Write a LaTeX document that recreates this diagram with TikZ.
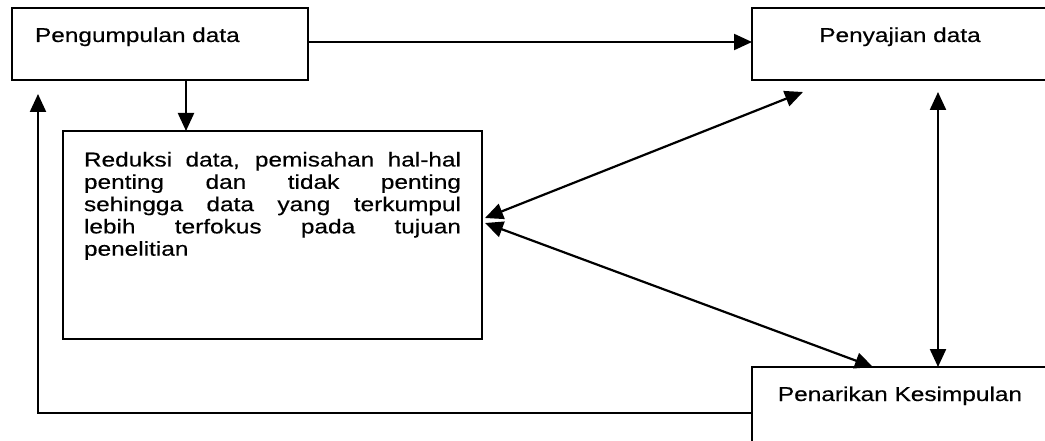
\documentclass[tikz,border=0pt]{standalone}
\usepackage{fontspec}
\setmainfont{Liberation Sans}[FakeStretch=1.22,FakeBold=0.4]
\usetikzlibrary{arrows.meta}
\tikzset{
  kotak/.style={draw, line width=2.2pt, outer sep=0pt, anchor=north west, inner ysep=19pt, text height=15pt, font=\fontsize{20}{22.3}\selectfont},
  panah/.style={line width=2.2pt, -{Triangle[length=18pt,width=16pt]}},
  panahdua/.style={line width=2.2pt, {Triangle[length=18pt,width=16pt]}-{Triangle[length=18pt,width=16pt]}}
}
\begin{document}
\begin{tikzpicture}[x=1pt,y=-1pt]
\useasboundingbox (0,0) rectangle (1045,441);
\node[kotak, text depth=19pt, text width=250pt, inner xsep=23pt, align=left] (kumpul) at (12,8) {Pengumpulan data};
\node[kotak, text depth=19pt, minimum width=296pt] (sajian) at (752,8) {Penyajian data};
\node[kotak, text depth=39pt, minimum width=296pt] (simpulan) at (752,367) {Penarikan Kesimpulan};
\node[draw, line width=2.2pt, outer sep=0pt, anchor=north west, inner xsep=21pt, inner ysep=21pt, font=\fontsize{20}{22.3}\selectfont] (reduksi) at (63,131) {\parbox[t][166pt][t]{377pt}{Reduksi data, pemisahan hal-hal\linebreak penting dan tidak penting\linebreak sehingga data yang terkumpul\linebreak lebih terfokus pada tujuan\linebreak penelitian}};
\draw[panah] ([yshift=2pt]kumpul.east) -- ([yshift=2pt]sajian.west);
\draw[panah] ([xshift=174pt]kumpul.south west) -- ([xshift=123pt]reduksi.north west);
\draw[panah] (simpulan.west) -| ([xshift=26pt,yshift=-14pt]kumpul.south west);
\draw[panahdua] ([xshift=3pt,yshift=17pt]reduksi.east) -- ([xshift=51pt,yshift=-12pt]sajian.south west);
\draw[panahdua] ([xshift=3pt,yshift=12pt]reduksi.east) -- ([xshift=121pt]simpulan.north west);
\draw[panahdua] ([xshift=186pt,yshift=-12pt]sajian.south west) -- ([xshift=186pt]simpulan.north west);
\end{tikzpicture}
\end{document}
